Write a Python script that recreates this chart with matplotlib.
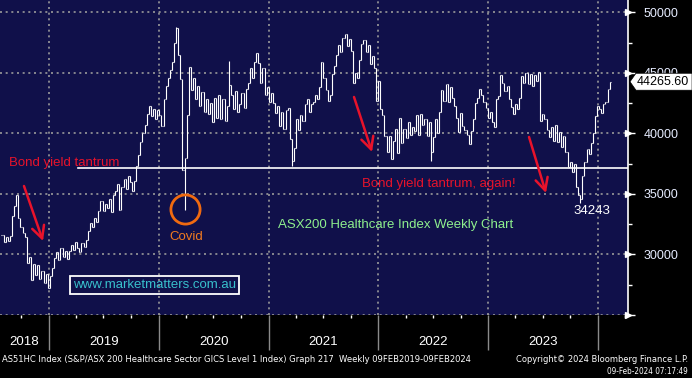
import matplotlib
matplotlib.use("Agg")
import matplotlib.pyplot as plt
import matplotlib.dates as mdates
from matplotlib import font_manager
from matplotlib.font_manager import FontProperties
from matplotlib.patches import Polygon
import pandas as pd

# weekly closes, AS51HC index
closes = [
    31600, 31000, 31400, 31100, 31500, 33200, 34000, 34900,
    33000, 32300, 31800, 31400, 29300,
    29800, 27900, 29200,
    28300, 29100, 28000, 28600, 27600, 28400, 27200, 28200,
    28900, 29700, 30200, 29500, 30500, 29800, 30300, 29600,
    30300, 30800, 30400, 31000, 30500, 30200, 30900, 30600,
    31200, 31900, 32600, 32300, 33000, 32700, 33600, 34400,
    33600, 34200, 33800, 34600, 33500, 34900,
    35200, 35800, 33700, 35600, 36200, 35400, 36500, 36000, 35200, 36100, 37300,
    38200, 39300, 40000, 40700,
    41600, 42300, 41400, 42000, 41200, 41900, 41500, 40600,
    42800, 43900, 44600, 45200, 45900,
    47500, 48700, 46500, 44500,
    37000, 38000, 41500,
    45500, 43600, 44600, 42800, 43900, 42300, 43400, 41800, 42800, 41600,
    42500, 40900, 42900, 41300, 43200, 41200, 42800, 41000,
    42300, 44000,
    43200, 42000, 43500, 41800, 42400, 43300, 42100, 43700,
    44200, 45400, 44600, 45900, 46600, 45800,
    44200, 45400, 43200, 43800, 42600, 43300, 42500,
    41700, 42300, 40600, 41800, 40400, 41900, 42100,
    39500, 37700,
    38800, 41200, 40300, 41500, 41000, 42400, 42800, 41800, 42400,
    42600, 43200, 42800,
    43800, 45900, 44600, 43600, 42700, 43200, 44900, 45600, 46500, 47300, 46700,
    47900, 48200, 47200, 47800, 46800,
    44200, 45000, 44600,
    46100, 47400, 47700, 46700, 47300, 45700, 46400, 45400,
    42700, 44300, 42000, 41500, 39800,
    38500, 39800, 37900, 39400,
    40400, 38400, 41300, 39200, 40400, 39600, 40900, 39900, 40500,
    40200, 41500, 39900, 41600, 40700, 41200, 39800, 40900,
    38500, 39700, 41200, 40000,
    41800, 43600, 42700, 44100, 42600, 43800, 42900, 42300,
    41300, 40100, 41700, 40600, 40300,
    39900, 39100, 40200,
    41200, 42500, 42900, 43700, 43200, 42600,
    42100, 41300, 41800, 40900, 40500,
    42800, 43100, 44800,
    44200, 43500, 43900, 42800, 42200, 41600, 42400,
    42000, 42900, 44700, 44200, 45000, 44100, 44900, 43900, 44800, 44300, 45100,
    41000, 41600, 41200,
    40300, 39700, 40500, 39400, 40700, 39300, 40100, 38900, 39800,
    38500, 37200,
    37600, 36800, 37500,
    35600, 34900, 34600,
    36500, 37600, 38700, 38300, 39200, 40000,
    41400, 42300, 42000, 41700, 42400,
    42600, 43700, 44265.6,
]
# weeks whose intra-week range went well past open/close
extra_lows = {87: 33700, 138: 37300, 204: 37700, 275: 34243}
extra_highs = {83: 48800, 108: 46000}

last_price = 44265.60
support_level = 37100
years = [2018, 2019, 2020, 2021, 2022, 2023]

weeks = pd.date_range(end="2024-02-09", periods=len(closes), freq="7D")
opens = [closes[0]] + closes[:-1]
highs = [max(o, c) for o, c in zip(opens, closes)]
lows = [min(o, c) for o, c in zip(opens, closes)]
for i, v in extra_lows.items():
    lows[i] = v
for i, v in extra_highs.items():
    highs[i] = v

plt.rcParams["font.family"] = ["Liberation Sans", "DejaVu Sans"]

# a condensed face for the Bloomberg-style footer, if one is installed
cond_file = None
for f in font_manager.fontManager.ttflist:
    fn = f.fname.lower()
    if ("narrow" in fn or "condensed" in fn) and not any(k in fn for k in ("bold", "italic", "oblique")):
        cond_file = f.fname
        break


def small_font(size):
    if cond_file:
        return FontProperties(fname=cond_file, size=size)
    return FontProperties(family="Liberation Sans", size=size)


navy = "#10104a"
fig = plt.figure(figsize=(6.92, 3.78), dpi=100, facecolor="black")
ax = fig.add_axes([0, 1 - 315 / 378, 628 / 692, 315 / 378], facecolor=navy)

# OHLC bars
tick = pd.Timedelta(days=3)
ax.vlines(weeks, lows, highs, color="white", lw=0.8, zorder=3)
ax.hlines(opens, weeks - tick, weeks, color="white", lw=0.8, zorder=3)
ax.hlines(closes, weeks, weeks + tick, color="white", lw=0.8, zorder=3)

ax.set_xlim(pd.Timestamp("2018-07-22"), pd.Timestamp("2024-04-10"))
ax.set_ylim(24990, 51020)

for s in ["top", "left", "bottom"]:
    ax.spines[s].set_visible(False)
ax.spines["right"].set_color("white")
ax.spines["right"].set_linewidth(1.2)

# y axis on the right
ax.yaxis.tick_right()
yt = list(range(25000, 50001, 5000))
ax.set_yticks(yt)
ax.set_yticklabels([""] + [str(v) for v in yt[1:]])
ax.set_yticks(list(range(27500, 50000, 5000)), minor=True)
ax.tick_params(axis="y", which="major", colors="white", length=5, width=1,
               labelcolor="#e6ecff", labelsize=9, pad=6)
ax.tick_params(axis="y", which="minor", colors="white", length=3, width=1)
ax.plot([1.0] * len(yt), yt, marker=">", ms=4, color="white", ls="none",
        transform=ax.get_yaxis_transform(), clip_on=False, zorder=4)

# x axis: year separators + quarter ticks
ax.xaxis.set_major_locator(mdates.YearLocator())
ax.xaxis.set_minor_locator(mdates.MonthLocator(bymonth=[1, 4, 7, 10]))
ax.xaxis.set_major_formatter(plt.NullFormatter())
ax.tick_params(axis="x", which="major", colors="#8a8a8a", length=25, width=1)
ax.tick_params(axis="x", which="minor", colors="white", length=2.5, width=1)

ax.grid(True, which="major", color="#9a9a9a", ls=(0, (1.2, 2.2)), lw=1.2)
ax.set_axisbelow(True)

fig.canvas.draw()
renderer = fig.canvas.get_renderer()


def fit(t, width_px):
    # shrink/grow a text so it spans the width seen in the reference
    w = t.get_window_extent(renderer).width
    t.set_fontsize(t.get_fontsize() * width_px / w)


x0 = ax.get_xlim()[0]
for yr in years:
    a = max(mdates.date2num(pd.Timestamp(f"{yr}-01-01")), x0)
    b = mdates.date2num(pd.Timestamp(f"{yr + 1}-01-01"))
    ax.text((a + b) / 2, -0.086, str(yr), transform=ax.get_xaxis_transform(),
            ha="center", va="center", color="white", fontsize=9.5)

# support line
ax.axhline(support_level, xmin=0.124, xmax=1.0, color="white", lw=1.2, zorder=4)

red = "#e8132b"
ax.text(0.0143, 0.4825, "Bond yield tantrum", transform=ax.transAxes, color=red,
        fontsize=9.5, va="center", ha="left")
ax.text(0.5764, 0.4159, "Bond yield tantrum, again!", transform=ax.transAxes,
        color=red, fontsize=9.5, va="center", ha="left")
arrow = dict(arrowstyle="->,head_length=0.55,head_width=0.28", color=red, lw=1.8,
             mutation_scale=16, shrinkA=0, shrinkB=0)
for (xs, ys), (xe, ye) in [((0.0382, 0.4095), (0.0685, 0.2349)),
                           ((0.5637, 0.6921), (0.5924, 0.5175)),
                           ((0.8424, 0.5651), (0.8694, 0.3873))]:
    ax.annotate("", xy=(xe, ye), xytext=(xs, ys), xycoords="axes fraction",
                arrowprops=arrow, zorder=6)

ax.text(0.4427, 0.2857, "ASX200 Healthcare Index Weekly Chart", transform=ax.transAxes,
        color="#8ef08e", fontsize=9.5, va="center", ha="left")

ax.plot([0.2946], [0.3365], marker="o", ms=21, mfc="none", mec="#f06a10", mew=2,
        transform=ax.transAxes, zorder=6)
ax.text(0.2962, 0.2476, "Covid", transform=ax.transAxes, color="#f07a20",
        fontsize=9.5, va="center", ha="center")
ax.text(0.9427, 0.3302, "34243", transform=ax.transAxes, color="white",
        fontsize=9.5, va="center", ha="center")

ax.text(0.246, 0.0952, "www.marketmatters.com.au", transform=ax.transAxes,
        color="#38c0cc", fontsize=9.5, va="center", ha="center",
        bbox=dict(boxstyle="square,pad=0.2", fc="none", ec="white", lw=1.3))

# last price tag (covers the 45000 label, as on the original)
h = 700
tag = Polygon([(1.0032, last_price), (1.0127, last_price + h), (1.102, last_price + h),
               (1.102, last_price - h), (1.0127, last_price - h)], closed=True,
              fc="white", ec="black", lw=0.5, transform=ax.get_yaxis_transform(),
              clip_on=False, zorder=8)
ax.add_patch(tag)
ax.text(1.0145, last_price, f"{last_price:.2f}", transform=ax.get_yaxis_transform(),
        color="black", fontsize=9, va="center", ha="left", zorder=9)

# footer
f1 = fig.text(2 / 692, 1 - 359 / 378,
              "AS51HC Index (S&P/ASX 200 Healthcare Sector GICS Level 1 Index) Graph 217  Weekly 09FEB2019-09FEB2024",
              color="white", fontproperties=small_font(7), va="center", ha="left")
f2 = fig.text(688 / 692, 1 - 359 / 378, "Copyright\u00a9 2024 Bloomberg Finance L.P.",
              color="white", fontproperties=small_font(7), va="center", ha="right")
f3 = fig.text(688 / 692, 1 - 371 / 378, "09-Feb-2024 07:17:49",
              color="white", fontproperties=small_font(7), va="center", ha="right")
fit(f1, 472)
fit(f2, 172)
fit(f3, 81)

fig.savefig("out.png", dpi=100, facecolor="black")
